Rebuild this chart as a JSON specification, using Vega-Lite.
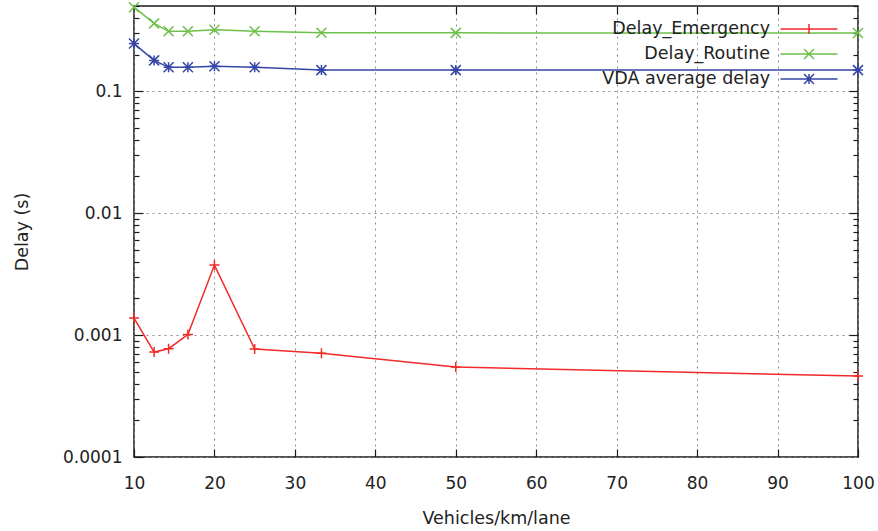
{
  "$schema": "https://vega.github.io/schema/vega-lite/v6.json",
  "autosize": {"type": "none"},
  "padding": {"left": 134, "top": 6, "right": 20, "bottom": 74},
  "width": 724,
  "height": 451,
  "background": "white",
  "config": {
    "font": "DejaVu Sans",
    "view": {"stroke": "#1a1a1a", "strokeWidth": 1.5},
    "axis": {
      "domain": false,
      "labelFlush": false,
      "tickColor": "#1a1a1a",
      "tickWidth": 1.2,
      "labelFont": "DejaVu Sans",
      "labelFontSize": 17,
      "labelColor": "#222",
      "titleFont": "DejaVu Sans",
      "titleFontSize": 17.5,
      "titleFontWeight": "normal",
      "titleColor": "#222",
      "gridColor": "#8c8c8c",
      "gridDash": [2, 4],
      "gridWidth": 1
    },
    "point": {"filled": false, "size": 100, "strokeWidth": 1.5, "opacity": 1}
  },
  "data": {
    "values": [
      {"density": 10, "series": "Delay_Emergency", "delay": 0.00138},
      {"density": 12.5, "series": "Delay_Emergency", "delay": 0.000726},
      {"density": 14.3, "series": "Delay_Emergency", "delay": 0.000773},
      {"density": 16.7, "series": "Delay_Emergency", "delay": 0.00101},
      {"density": 20, "series": "Delay_Emergency", "delay": 0.00375},
      {"density": 25, "series": "Delay_Emergency", "delay": 0.000767},
      {"density": 33.3, "series": "Delay_Emergency", "delay": 0.000708},
      {"density": 50, "series": "Delay_Emergency", "delay": 0.000547},
      {"density": 100, "series": "Delay_Emergency", "delay": 0.000461},
      {"density": 10, "series": "Delay_Routine", "delay": 0.489},
      {"density": 12.5, "series": "Delay_Routine", "delay": 0.36},
      {"density": 14.3, "series": "Delay_Routine", "delay": 0.31},
      {"density": 16.7, "series": "Delay_Routine", "delay": 0.31},
      {"density": 20, "series": "Delay_Routine", "delay": 0.319},
      {"density": 25, "series": "Delay_Routine", "delay": 0.31},
      {"density": 33.3, "series": "Delay_Routine", "delay": 0.302},
      {"density": 50, "series": "Delay_Routine", "delay": 0.301},
      {"density": 100, "series": "Delay_Routine", "delay": 0.30},
      {"density": 10, "series": "VDA average delay", "delay": 0.246},
      {"density": 12.5, "series": "VDA average delay", "delay": 0.179},
      {"density": 14.3, "series": "VDA average delay", "delay": 0.157},
      {"density": 16.7, "series": "VDA average delay", "delay": 0.157},
      {"density": 20, "series": "VDA average delay", "delay": 0.160},
      {"density": 25, "series": "VDA average delay", "delay": 0.157},
      {"density": 33.3, "series": "VDA average delay", "delay": 0.149},
      {"density": 50, "series": "VDA average delay", "delay": 0.149},
      {"density": 100, "series": "VDA average delay", "delay": 0.149}
    ]
  },
  "resolve": {"axis": {"x": "independent", "y": "independent"}},
  "layer": [
    {
      "mark": {"type": "line", "strokeWidth": 1.5},
      "encoding": {
        "x": {
          "field": "density",
          "type": "quantitative",
          "scale": {"domain": [10, 100], "nice": false, "zero": false},
          "axis": {
            "orient": "bottom",
            "title": "Vehicles/km/lane",
            "values": [10, 20, 30, 40, 50, 60, 70, 80, 90, 100],
            "tickSize": -8,
            "labelPadding": 26,
            "grid": true,
            "titlePadding": 18
          }
        },
        "y": {
          "field": "delay",
          "type": "quantitative",
          "scale": {"type": "log", "domain": [0.0001, 0.5], "nice": false},
          "axis": {
            "orient": "left",
            "title": "Delay (s)",
            "values": [0.0001, 0.0002, 0.0003, 0.0004, 0.0005, 0.0006, 0.0007, 0.0008, 0.0009, 0.001, 0.002, 0.003, 0.004, 0.005, 0.006, 0.007, 0.008, 0.009, 0.01, 0.02, 0.03, 0.04, 0.05, 0.06, 0.07, 0.08, 0.09, 0.1, 0.2, 0.3, 0.4, 0.5],
            "format": "~g",
            "labelExpr": "abs(log(datum.value) / LN10 - round(log(datum.value) / LN10)) < 0.001 ? datum.label : ''",
            "tickSize": {"condition": {"test": "abs(log(datum.value) / LN10 - round(log(datum.value) / LN10)) < 0.001", "value": -9}, "value": -5},
            "gridOpacity": {"condition": {"test": "abs(log(datum.value) / LN10 - round(log(datum.value) / LN10)) < 0.001", "value": 1}, "value": 0},
            "grid": true,
            "labelPadding": 21,
            "titlePadding": 31
          }
        },
        "color": {
          "field": "series",
          "type": "nominal",
          "scale": {
            "domain": ["Delay_Emergency", "Delay_Routine", "VDA average delay"],
            "range": ["#f22a2a", "#6cc04a", "#3646a6"]
          },
          "legend": {
            "title": null,
            "orient": "none",
            "legendX": 664,
            "legendY": 12,
            "symbolSize": 400,
            "symbolStrokeWidth": 1.5,
            "labelAlign": "right",
            "labelBaseline": "middle",
            "labelOffset": -50,
            "labelFont": "DejaVu Sans",
            "labelFontSize": 17.5,
            "labelColor": "#222",
            "labelLimit": 400,
            "rowPadding": 5,
            "encode": {
              "symbols": {
                "update": {
                  "fill": {"value": "transparent"},
                  "shape": {"signal": "datum.value === 'Delay_Emergency' ? 'M-2.85,0H2.85M0,-0.5V0.5' : datum.value === 'Delay_Routine' ? 'M-2.85,0H2.85M-0.5,-0.5L0.5,0.5M-0.5,0.5L0.5,-0.5' : 'M-2.85,0H2.85M0,-0.5V0.5M-0.5,-0.5L0.5,0.5M-0.5,0.5L0.5,-0.5'"}
                }
              }
            }
          }
        }
      }
    },
    {
      "transform": [{"filter": "datum.series === 'Delay_Emergency'"}],
      "mark": {"type": "point", "shape": "M-1,0H1M0,-1V1"},
      "encoding": {
        "x": {
          "field": "density",
          "type": "quantitative",
          "scale": {"domain": [10, 100], "nice": false, "zero": false},
          "axis": {
            "orient": "top",
            "title": null,
            "values": [20, 30, 40, 50, 60, 70, 80, 90],
            "labels": false,
            "tickSize": -8,
            "grid": false
          }
        },
        "y": {
          "field": "delay",
          "type": "quantitative",
          "scale": {"type": "log", "domain": [0.0001, 0.5], "nice": false},
          "axis": {
            "orient": "right",
            "title": null,
            "values": [0.0002, 0.0003, 0.0004, 0.0005, 0.0006, 0.0007, 0.0008, 0.0009, 0.001, 0.002, 0.003, 0.004, 0.005, 0.006, 0.007, 0.008, 0.009, 0.01, 0.02, 0.03, 0.04, 0.05, 0.06, 0.07, 0.08, 0.09, 0.1, 0.2, 0.3, 0.4, 0.5],
            "labels": false,
            "tickSize": {"condition": {"test": "abs(log(datum.value) / LN10 - round(log(datum.value) / LN10)) < 0.001", "value": -9}, "value": -5},
            "grid": false
          }
        },
        "color": {"field": "series", "type": "nominal", "legend": null}
      }
    },
    {
      "transform": [{"filter": "datum.series === 'Delay_Routine'"}],
      "mark": {"type": "point", "shape": "M-1,-1L1,1M-1,1L1,-1"},
      "encoding": {
        "x": {"field": "density", "type": "quantitative", "scale": {"domain": [10, 100], "nice": false, "zero": false}, "axis": null},
        "y": {"field": "delay", "type": "quantitative", "scale": {"type": "log", "domain": [0.0001, 0.5], "nice": false}, "axis": null},
        "color": {"field": "series", "type": "nominal", "legend": null}
      }
    },
    {
      "transform": [{"filter": "datum.series === 'VDA average delay'"}],
      "mark": {"type": "point", "shape": "M-1,0H1M0,-1V1M-1,-1L1,1M-1,1L1,-1"},
      "encoding": {
        "x": {"field": "density", "type": "quantitative", "scale": {"domain": [10, 100], "nice": false, "zero": false}, "axis": null},
        "y": {"field": "delay", "type": "quantitative", "scale": {"type": "log", "domain": [0.0001, 0.5], "nice": false}, "axis": null},
        "color": {"field": "series", "type": "nominal", "legend": null}
      }
    }
  ]
}
